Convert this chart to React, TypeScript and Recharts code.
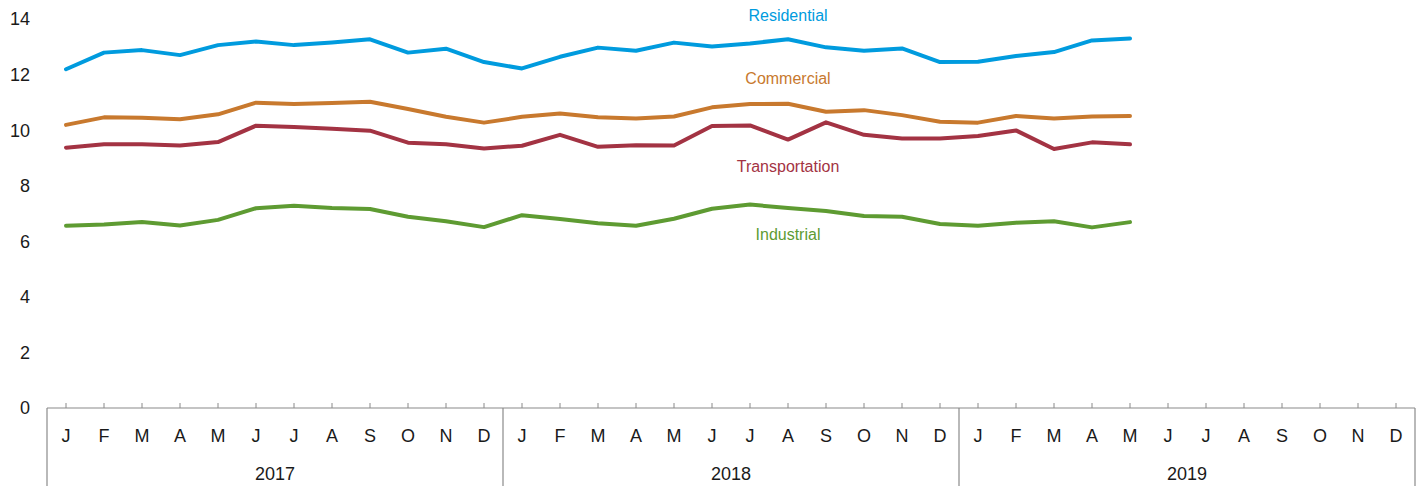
import React from "react"
import { LineChart, Line, XAxis, YAxis } from "recharts"

const months = ["J", "F", "M", "A", "M", "J", "J", "A", "S", "O", "N", "D"]
const years = ["2017", "2018", "2019"]

const residential = [
  12.19, 12.79, 12.88, 12.7, 13.06, 13.19, 13.06, 13.15, 13.27, 12.79, 12.93, 12.45,
  12.22, 12.64, 12.97, 12.86, 13.15, 13.01, 13.12, 13.27, 12.98, 12.86, 12.94, 12.45,
  12.46, 12.67, 12.81, 13.23, 13.3,
]
const commercial = [
  10.19, 10.46, 10.45, 10.39, 10.57, 10.99, 10.94, 10.98, 11.02, 10.76, 10.48, 10.27,
  10.48, 10.6, 10.46, 10.42, 10.49, 10.82, 10.94, 10.95, 10.66, 10.72, 10.54, 10.3,
  10.27, 10.51, 10.42, 10.49, 10.51,
]
const transportation = [
  9.37, 9.49, 9.49, 9.45, 9.57, 10.16, 10.11, 10.05, 9.98, 9.55, 9.49, 9.34,
  9.44, 9.83, 9.4, 9.46, 9.45, 10.15, 10.17, 9.66, 10.28, 9.83, 9.7, 9.7,
  9.79, 9.99, 9.32, 9.56, 9.49,
]
const industrial = [
  6.56, 6.6, 6.69, 6.57, 6.77, 7.19, 7.28, 7.2, 7.16, 6.88, 6.72, 6.51,
  6.94, 6.8, 6.65, 6.56, 6.81, 7.17, 7.32, 7.2, 7.09, 6.91, 6.88, 6.62,
  6.56, 6.67, 6.72, 6.5, 6.69,
]

const yTicks = [0, 2, 4, 6, 8, 10, 12, 14]
const labelIndex = 19 // Aug 2018, where the series names sit

const data = residential.map((_, i) => ({
  idx: i,
  residential: residential[i],
  commercial: commercial[i],
  transportation: transportation[i],
  industrial: industrial[i],
}))

// month ticks, year boundaries and year midpoints all on one numeric axis
const monthTicks = Array.from({ length: years.length * 12 }, (_, i) => i)
const boundaryTicks = years.map((_, i) => i * 12 - 0.5).concat([years.length * 12 - 0.5])
const yearTicks = years.map((_, i) => i * 12 + 5.5)
const xTicks = [...monthTicks, ...boundaryTicks, ...yearTicks].sort((a, b) => a - b)

const AXIS = "#8a8a8a"
const FONT = "'Liberation Sans', Arial, sans-serif"

const series = [
  { key: "residential", name: "Residential", color: "#009bde", dy: -23 },
  { key: "commercial", name: "Commercial", color: "#c8792e", dy: -24 },
  { key: "transportation", name: "Transportation", color: "#a33343", dy: 28 },
  { key: "industrial", name: "Industrial", color: "#5e9b32", dy: 28 },
]

function XTick(props: any) {
  const { x, y, payload } = props
  const v = payload.value
  if (Number.isInteger(v)) {
    return (
      <g>
        <line x1={x} x2={x} y1={y - 5} y2={y} stroke={AXIS} strokeWidth={1} />
        <text x={x} y={y + 29} textAnchor="middle" dominantBaseline="middle" fontSize={18} fill="#1a1a1a" fontFamily={FONT}>
          {months[v % 12]}
        </text>
      </g>
    )
  }
  if (boundaryTicks.includes(v)) {
    return <line x1={x} x2={x} y1={y} y2={y + 78} stroke={AXIS} strokeWidth={1.2} />
  }
  const yr = yearTicks.indexOf(v)
  return (
    <text x={x} y={y + 67} textAnchor="middle" dominantBaseline="middle" fontSize={18} fill="#1a1a1a" fontFamily={FONT}>
      {years[yr]}
    </text>
  )
}

function seriesLabel(name: string, color: string, dy: number) {
  return (props: any) => {
    if (props.index !== labelIndex) return null
    return (
      <text
        key={name}
        x={props.x}
        y={props.y + dy}
        textAnchor="middle"
        dominantBaseline="middle"
        fontSize={16}
        fill={color}
        fontFamily={FONT}
      >
        {name}
      </text>
    )
  }
}

export default function App() {
  return (
    <div style={{ position: "absolute", left: 0, top: 0, background: "#fff" }}>
      <LineChart width={1423} height={486} data={data} margin={{ top: 19, right: 8, left: 0, bottom: 0 }}>
        <XAxis
          dataKey="idx"
          type="number"
          domain={[-0.5, years.length * 12 - 0.5]}
          ticks={xTicks}
          interval={0}
          height={78}
          tickSize={0}
          tickMargin={0}
          tickLine={false}
          axisLine={{ stroke: AXIS, strokeWidth: 1.2 }}
          tick={<XTick />}
        />
        <YAxis
          domain={[0, 14]}
          ticks={yTicks}
          width={47}
          axisLine={false}
          tickLine={false}
          tickSize={0}
          tickMargin={17}
          tick={{ fontSize: 18, fill: "#1a1a1a", fontFamily: FONT }}
        />
        {series.map((s) => (
          <Line
            key={s.key}
            type="linear"
            dataKey={s.key}
            stroke={s.color}
            strokeWidth={4}
            strokeLinejoin="round"
            strokeLinecap="round"
            dot={false}
            activeDot={false}
            isAnimationActive={false}
            label={seriesLabel(s.name, s.color, s.dy)}
          />
        ))}
      </LineChart>
    </div>
  )
}
